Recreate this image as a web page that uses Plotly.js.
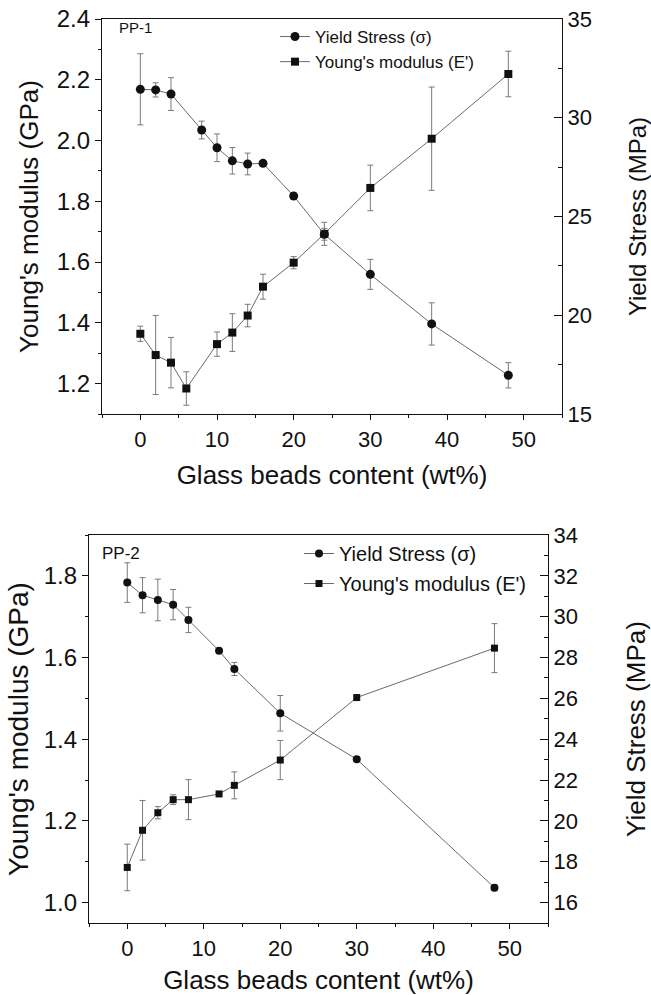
<!DOCTYPE html>
<html>
<head>
<meta charset="utf-8">
<script src="https://cdn.plot.ly/plotly-3.0.1.min.js"></script>
<style>html,body{margin:0;padding:0;background:#fff;}#chart{width:651px;height:995px;}</style>
</head>
<body>
<div id="chart"></div>
<script>
// ---- PP-1 (top panel) ----
const pp1Content = [0, 2, 4, 8, 10, 12, 14, 16, 20, 24, 30, 38, 48];
const pp1Yield = [31.44, 31.41, 31.20, 29.38, 28.48, 27.82, 27.66, 27.69, 26.04, 24.1, 22.07, 19.56, 16.96];
const pp1YieldErr = [1.8, 0.36, 0.83, 0.45, 0.7, 0.67, 0.55, 0.1, 0.1, 0.3, 0.76, 1.07, 0.64];

const pp1ModContent = [0, 2, 4, 6, 10, 12, 14, 16, 20, 24, 30, 38, 48];
const pp1Modulus = [1.364, 1.294, 1.269, 1.184, 1.330, 1.368, 1.424, 1.519, 1.598, 1.693, 1.844, 2.006, 2.219];
const pp1ModulusErr = [0.025, 0.13, 0.083, 0.055, 0.04, 0.062, 0.037, 0.041, 0.02, 0.038, 0.075, 0.17, 0.075];

// ---- PP-2 (bottom panel) ----
const pp2Content = [0, 2, 4, 6, 8, 12, 14, 20, 30, 48];
const pp2Yield = [31.67, 31.05, 30.82, 30.59, 29.84, 28.33, 27.44, 25.27, 23.02, 16.73];
const pp2YieldErr = [0.97, 0.86, 1.02, 0.74, 0.62, 0.08, 0.32, 0.87, 0.1, 0.15];

const pp2ModContent = [0, 2, 4, 6, 8, 12, 14, 20, 30, 48];
const pp2Modulus = [1.086, 1.177, 1.220, 1.252, 1.252, 1.266, 1.287, 1.349, 1.502, 1.623];
const pp2ModulusErr = [0.057, 0.073, 0.015, 0.012, 0.049, 0.006, 0.033, 0.048, 0.005, 0.06];

const seriesNames = ["Yield Stress (\u03c3)", "Young's modulus (E')"];
const panelLabels = ["PP-1", "PP-2"];
const xTitle = "Glass beads content (wt%)";
const yLeftTitle = "Young's modulus (GPa)";
const yRightTitle = "Yield Stress (MPa)";

const FONT = "Liberation Sans, Arial, sans-serif";
const lineCol = "#6a6a6a";
const errCol = "#7a7a7a";
const mkCol = "#111";

function errObj(arr){ return {type:'data', array:arr, visible:true, color:errCol, thickness:1, width:3}; }

const traces = [
  {x:pp1Content, y:pp1Yield, error_y:errObj(pp1YieldErr), name:seriesNames[0], xaxis:'x', yaxis:'y2',
   mode:'lines+markers', line:{color:lineCol,width:1}, marker:{symbol:'circle',size:9,color:mkCol},
   legend:'legend'},
  {x:pp1ModContent, y:pp1Modulus, error_y:errObj(pp1ModulusErr), name:seriesNames[1], xaxis:'x', yaxis:'y',
   mode:'lines+markers', line:{color:lineCol,width:1}, marker:{symbol:'square',size:8,color:mkCol},
   legend:'legend'},
  {x:pp2Content, y:pp2Yield, error_y:errObj(pp2YieldErr), name:seriesNames[0], xaxis:'x2', yaxis:'y4',
   mode:'lines+markers', line:{color:lineCol,width:1}, marker:{symbol:'circle',size:8,color:mkCol},
   legend:'legend2', legendgroup:'c'},
  {x:pp2ModContent, y:pp2Modulus, error_y:errObj(pp2ModulusErr), name:seriesNames[1], xaxis:'x2', yaxis:'y3',
   mode:'lines+markers', line:{color:lineCol,width:1}, marker:{symbol:'square',size:7,color:mkCol},
   legend:'legend2', legendgroup:'d'}
];

const W = 651, H = 995;
const px = v => v / W;
const py = v => 1 - v / H;

const tickFont = {family:FONT, size:22, color:'#111'};
const axBase = {showline:true, linecolor:'#111', linewidth:1.2, showgrid:false, zeroline:false, tickcolor:'#111', tickfont:tickFont};

const layout = {
  width:W, height:H, margin:{l:0,r:0,t:0,b:0}, paper_bgcolor:'#fff', plot_bgcolor:'#fff',
  font:{family:FONT, color:'#111'},
  xaxis: Object.assign({}, axBase, {domain:[px(102), px(562)], anchor:'y', range:[-5,55], dtick:10, tick0:0,
    ticks:'outside', ticklen:5, mirror:true,
    minor:{dtick:5, ticks:'outside', ticklen:3, tickcolor:'#111'},
    title:{text:xTitle, font:{family:FONT,size:26}, standoff:15}}),
  yaxis: Object.assign({}, axBase, {domain:[py(414), py(19)], anchor:'x', range:[1.1,2.4], dtick:0.2, tick0:0,
    tickformat:'.1f', ticks:'outside', ticklen:6, tickfont:{family:FONT,size:24,color:'#111'},
    minor:{dtick:0.1, ticks:'outside', ticklen:3, tickcolor:'#111'},
    title:{text:yLeftTitle, font:{family:FONT,size:26}, standoff:10}}),
  yaxis2: Object.assign({}, axBase, {overlaying:'y', side:'right', anchor:'x', range:[15,35], dtick:5, tick0:0,
    ticks:'inside', ticklen:8,
    minor:{dtick:2.5, ticks:'inside', ticklen:4, tickcolor:'#111'},
    title:{text:yRightTitle, font:{family:FONT,size:24}, standoff:41}}),
  xaxis2: Object.assign({}, axBase, {domain:[px(89), px(548)], anchor:'y3', range:[-5,55], dtick:10, tick0:0,
    ticks:'outside', ticklen:5, mirror:true,
    minor:{dtick:5, ticks:'outside', ticklen:3, tickcolor:'#111'},
    title:{text:xTitle, font:{family:FONT,size:26}, standoff:16}}),
  yaxis3: Object.assign({}, axBase, {domain:[py(923), py(535)], anchor:'x2', range:[0.95,1.9], dtick:0.2, tick0:0,
    tickformat:'.1f', ticks:'outside', ticklen:6, tickfont:{family:FONT,size:24,color:'#111'},
    minor:{dtick:0.1, ticks:'outside', ticklen:3, tickcolor:'#111'},
    title:{text:yLeftTitle, font:{family:FONT,size:28}, standoff:6}}),
  yaxis4: Object.assign({}, axBase, {overlaying:'y3', side:'right', anchor:'x2', range:[15,34], dtick:2, tick0:0,
    ticks:'inside', ticklen:8,
    minor:{dtick:1, ticks:'inside', ticklen:4, tickcolor:'#111'},
    title:{text:yRightTitle, font:{family:FONT,size:26}, standoff:50}}),
  legend:{x:px(275), y:py(19), xanchor:'left', yanchor:'top', bgcolor:'rgba(0,0,0,0)',
    font:{family:FONT,size:17,color:'#111'}, traceorder:'normal'},
  legend2:{x:px(299), y:py(534), xanchor:'left', yanchor:'top', bgcolor:'rgba(0,0,0,0)',
    font:{family:FONT,size:20,color:'#111'}, traceorder:'grouped', tracegroupgap:1},
  annotations:[
    {text:panelLabels[0], xref:'paper', yref:'paper', x:px(117), y:py(27), xanchor:'left', yanchor:'middle',
     showarrow:false, font:{family:FONT,size:15,color:'#111'}},
    {text:panelLabels[1], xref:'paper', yref:'paper', x:px(100), y:py(553), xanchor:'left', yanchor:'middle',
     showarrow:false, font:{family:FONT,size:17,color:'#111'}}
  ]
};

Plotly.newPlot('chart', traces, layout, {displayModeBar:false, staticPlot:true});
</script>
</body>
</html>
